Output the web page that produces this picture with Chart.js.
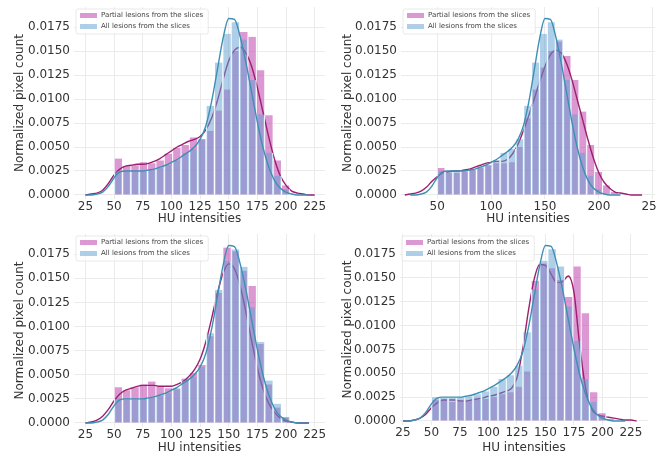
<!DOCTYPE html>
<html>
<head>
<meta charset="utf-8">
<script src="https://cdn.jsdelivr.net/npm/chart.js@4.4.1/dist/chart.umd.min.js"></script>
<style>
  html, body { margin: 0; padding: 0; background: #fff; }
  #wrap { position: relative; width: 657px; height: 457px; overflow: hidden; }
  canvas { position: absolute; }
</style>
</head>
<body>
<div id="wrap">
  <canvas id="c1" width="328" height="228" style="left:0;top:0"></canvas>
  <canvas id="c2" width="329" height="228" style="left:328px;top:0"></canvas>
  <canvas id="c3" width="328" height="229" style="left:0;top:228px"></canvas>
  <canvas id="c4" width="329" height="229" style="left:328px;top:228px"></canvas>
</div>
<script>
// histogram bins (HU), shared by every panel
const binCenters = [53.65, 60.95, 68.25, 75.55, 82.85, 90.15, 97.45, 104.75, 112.05, 119.35, 126.65, 133.95,
  141.25, 148.55, 155.85, 163.15, 170.45, 177.75, 185.05, 192.35, 199.65, 206.95, 214.25];

// all lesions (same data in the four panels)
const allHist = [0.0025, 0.0024, 0.0024, 0.0025, 0.0026, 0.0028, 0.0031, 0.0036, 0.0044, 0.0048, 0.0058, 0.0093,
  0.0138, 0.0168, 0.0180, 0.0162, 0.0120, 0.0084, 0.0044, 0.0020, 0.0006, 0, 0];

// partial lesions, one per panel
const p1Hist = [0.0038, 0.0030, 0.0031, 0.0034, 0.0033, 0.0036, 0.0043, 0.0049, 0.0052, 0.0060, 0.0058, 0.0067,
  0.0088, 0.0110, 0.0150, 0.0170, 0.0165, 0.0130, 0.0083, 0.0036, 0.0010, 0, 0];
const p2Hist = [0.0028, 0.0023, 0.0023, 0.0024, 0.0026, 0.0029, 0.0031, 0.0033, 0.0033, 0.0034, 0.0050, 0.0080,
  0.0110, 0.0133, 0.0150, 0.0160, 0.0145, 0.0120, 0.0087, 0.0052, 0.0024, 0.0010, 0.0003];
const p3Hist = [0.0037, 0.0034, 0.0037, 0.0040, 0.0043, 0.0038, 0.0036, 0.0035, 0.0046, 0.0052, 0.0060, 0.0090,
  0.0135, 0.0182, 0.0178, 0.0158, 0.0142, 0.0082, 0.0040, 0.0016, 0.0006, 0, 0];
const p4Hist = [0.0022, 0.0022, 0.0020, 0.0020, 0.0021, 0.0022, 0.0023, 0.0025, 0.0028, 0.0030, 0.0036, 0.0052,
  0.0147, 0.0165, 0.0160, 0.0148, 0.0130, 0.0162, 0.0113, 0.0030, 0.0008, 0.0002, 0];

// density curves, read every 5 HU from 20 to 240
const kdeGrid = [20, 25, 30, 35, 40, 45, 50, 55, 60, 65, 70, 75, 80, 85, 90, 95, 100, 105, 110, 115, 120, 125,
  130, 135, 140, 145, 150, 155, 160, 165, 170, 175, 180, 185, 190, 195, 200, 205, 210, 215, 220, 225, 230, 235, 240];
const allKde = [null, 0.0000, 0.0000, 0.0001, 0.0003, 0.0009, 0.0018, 0.0024, 0.0025, 0.0025, 0.0025, 0.0025,
  0.0026, 0.0027, 0.0029, 0.0031, 0.0034, 0.0037, 0.0041, 0.0045, 0.0050, 0.0058, 0.0072, 0.0097, 0.0130, 0.0163,
  0.0184, 0.0183, 0.0165, 0.0138, 0.0107, 0.0076, 0.0049, 0.0029, 0.0015, 0.0007, 0.0003, 0.0001, 0.0000, 0.0000,
  0.0000, null, null, null, null];
const p1Kde = [null, 0.0000, 0.0001, 0.0002, 0.0005, 0.0012, 0.0021, 0.0027, 0.0030, 0.0031, 0.0032, 0.0032,
  0.0033, 0.0035, 0.0038, 0.0042, 0.0046, 0.0050, 0.0053, 0.0056, 0.0058, 0.0061, 0.0068, 0.0080, 0.0098, 0.0120,
  0.0140, 0.0151, 0.0154, 0.0148, 0.0134, 0.0112, 0.0086, 0.0060, 0.0037, 0.0020, 0.0010, 0.0004, 0.0002, 0.0001,
  0.0000, 0.0000, null, null, null];
const p2Kde = [0.0000, 0.0001, 0.0002, 0.0004, 0.0008, 0.0014, 0.0019, 0.0023, 0.0024, 0.0025, 0.0025, 0.0026,
  0.0027, 0.0029, 0.0031, 0.0033, 0.0034, 0.0035, 0.0035, 0.0037, 0.0043, 0.0053, 0.0067, 0.0083, 0.0100, 0.0118,
  0.0134, 0.0146, 0.0151, 0.0148, 0.0137, 0.0120, 0.0099, 0.0078, 0.0057, 0.0038, 0.0023, 0.0013, 0.0007, 0.0003,
  0.0002, 0.0001, 0.0000, 0.0000, 0.0000];
const p3Kde = [null, 0.0000, 0.0001, 0.0003, 0.0007, 0.0014, 0.0023, 0.0030, 0.0034, 0.0036, 0.0038, 0.0039,
  0.0039, 0.0039, 0.0038, 0.0038, 0.0038, 0.0040, 0.0043, 0.0048, 0.0055, 0.0066, 0.0084, 0.0108, 0.0134, 0.0155,
  0.0165, 0.0160, 0.0142, 0.0115, 0.0085, 0.0057, 0.0035, 0.0020, 0.0011, 0.0005, 0.0002, 0.0001, 0.0000, 0.0000,
  0.0000, null, null, null, null];
const p4Kde = [null, 0.0000, 0.0000, 0.0001, 0.0003, 0.0007, 0.0014, 0.0019, 0.0022, 0.0022, 0.0022, 0.0021,
  0.0021, 0.0022, 0.0023, 0.0024, 0.0026, 0.0027, 0.0029, 0.0031, 0.0034, 0.0045, 0.0075, 0.0115, 0.0148, 0.0164,
  0.0163, 0.0154, 0.0145, 0.0146, 0.0152, 0.0135, 0.0080, 0.0036, 0.0014, 0.0007, 0.0005, 0.0004, 0.0003, 0.0002,
  0.0001, 0.0001, 0.0000, null, null];

const xTicksA = [25, 50, 75, 100, 125, 150, 175, 200, 225];
const xTicksB = [50, 100, 150, 200, 250];
const yTicks = [0, 0.0025, 0.005, 0.0075, 0.01, 0.0125, 0.015, 0.0175];

const partialLabel = 'Partial lesions from the slices';
const allLabel = 'All lesions from the slices';

const pinkFill = 'rgba(180, 40, 160, 0.48)';
const blueFill = 'rgba(95, 160, 210, 0.5)';
const pinkLine = '#9e1f6f';
const blueLine = '#3f8fb5';
const textColor = '#333';
const gridColor = '#ebebeb';
const font = { family: '"DejaVu Sans", sans-serif', size: 12 };

// legend drawn inside the plot, top left, like matplotlib
const legendBox = {
  id: 'legendBox',
  afterDraw(chart) {
    const { ctx, chartArea: a } = chart;
    const items = chart.data.datasets.filter(d => d.label);
    ctx.save();
    ctx.font = '7px "DejaVu Sans", sans-serif';
    const w = Math.max(...items.map(d => ctx.measureText(d.label).width)) + 30;
    const x0 = a.left + 2, y0 = a.top + 2, h = 25;
    ctx.beginPath();
    ctx.roundRect(x0, y0, w, h, 2);
    ctx.fillStyle = 'rgba(255,255,255,0.8)';
    ctx.fill();
    ctx.strokeStyle = 'rgba(220,220,220,0.8)';
    ctx.lineWidth = 0.8;
    ctx.stroke();
    items.forEach((d, i) => {
      const y = a.top + 8.5 + i * 11;
      ctx.fillStyle = d.backgroundColor;
      ctx.fillRect(a.left + 6, y - 2.5, 17, 5);
      ctx.fillStyle = '#444';
      ctx.textBaseline = 'middle';
      ctx.fillText(d.label, a.left + 27, y);
    });
    ctx.restore();
  }
};

const panels = [
  { id: 'c1', hist: p1Hist, kde: p1Kde, xMin: 15, xMax: 234, xTicks: xTicksA, area: { l: 74, t: 7, r: 325, b: 199 } },
  { id: 'c2', hist: p2Hist, kde: p2Kde, xMin: 16.5, xMax: 252, xTicks: xTicksB, area: { l: 73, t: 7, r: 327, b: 199 } },
  { id: 'c3', hist: p3Hist, kde: p3Kde, xMin: 15, xMax: 234, xTicks: xTicksA, area: { l: 74, t: 6, r: 325, b: 199 } },
  { id: 'c4', hist: p4Hist, kde: p4Kde, xMin: 22.4, xMax: 240, xTicks: xTicksA, area: { l: 72, t: 6, r: 320, b: 197 } },
];

const bars = vals => binCenters.map((x, i) => ({ x, y: vals[i] })).filter(d => d.y > 0);
const curve = vals => kdeGrid.map((x, i) => ({ x, y: vals[i] }));

function barSet(label, vals, color, order) {
  return {
    label, data: bars(vals), backgroundColor: color, borderColor: '#fff',
    borderWidth: { left: 0.8, right: 0.8, top: 0, bottom: 0 },
    grouped: false, barPercentage: 1, categoryPercentage: 1, order
  };
}

function lineSet(vals, color, order) {
  return {
    type: 'line', data: curve(vals), borderColor: color, borderWidth: 1.4,
    pointRadius: 0, fill: false, cubicInterpolationMode: 'monotone', order
  };
}

function makePanel(p) {
  const canvas = document.getElementById(p.id);
  const W = canvas.width, H = canvas.height, a = p.area;
  new Chart(canvas, {
    type: 'bar',
    data: {
      datasets: [
        barSet(partialLabel, p.hist, pinkFill, 4),
        lineSet(p.kde, pinkLine, 3),
        barSet(allLabel, allHist, blueFill, 2),
        lineSet(allKde, blueLine, 1)
      ]
    },
    options: {
      responsive: false,
      animation: false,
      layout: { padding: { left: 0, top: a.t, right: W - a.r, bottom: 0 } },
      plugins: { legend: { display: false }, tooltip: { enabled: false } },
      scales: {
        x: {
          type: 'linear', min: p.xMin, max: p.xMax, offset: false,
          grid: { color: gridColor, drawTicks: false, offset: false },
          border: { display: false },
          ticks: { font, color: textColor, padding: 1, autoSkip: false, maxRotation: 0 },
          afterBuildTicks: s => { s.ticks = p.xTicks.map(v => ({ value: v })); },
          afterFit: s => { s.height = H - a.b; s.paddingLeft = 0; s.paddingRight = 0; },
          title: { display: true, text: 'HU intensities', font, color: textColor, padding: { top: 0, bottom: 1.5 } }
        },
        y: {
          min: -0.00042, max: 0.0196,
          grid: { color: gridColor, drawTicks: false },
          border: { display: false },
          ticks: { font, color: textColor, padding: 4, callback: v => v.toFixed(4) },
          afterBuildTicks: s => { s.ticks = yTicks.map(v => ({ value: v })); },
          afterFit: s => { s.width = a.l; s.paddingTop = 0; s.paddingBottom = 0; },
          title: { display: true, text: 'Normalized pixel count', font, color: textColor, padding: { top: 12.8, bottom: 0 } }
        }
      }
    },
    plugins: [legendBox]
  });
}

panels.forEach(makePanel);
</script>
</body>
</html>
